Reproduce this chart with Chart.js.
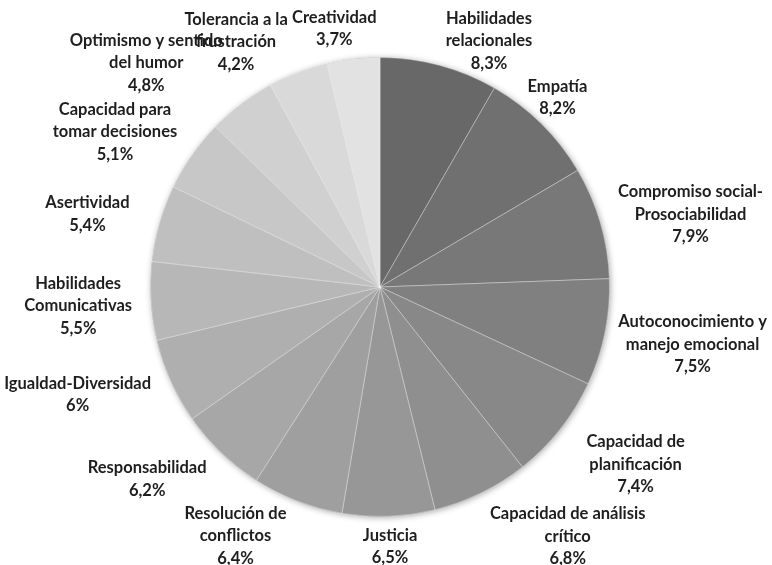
<!DOCTYPE html>
<html>
<head>
<meta charset="utf-8">
<script src="https://cdn.jsdelivr.net/npm/chart.js@4/dist/chart.umd.min.js"></script>
<style>
  html, body { margin: 0; padding: 0; background: #fff; }
  #wrap { width: 772px; height: 565px; }
</style>
</head>
<body>
<div id="wrap"><canvas id="pieChart" width="772" height="565"></canvas></div>
<script>
// Competencias (label lines split with \n) and their share in %
const categories = [
  'Habilidades\nrelacionales',
  'Empatía',
  'Compromiso social-\nProsociabilidad',
  'Autoconocimiento y\nmanejo emocional',
  'Capacidad de\nplanificación',
  'Capacidad de análisis\ncrítico',
  'Justicia',
  'Resolución de\nconflictos',
  'Responsabilidad',
  'Igualdad-Diversidad',
  'Habilidades\nComunicativas',
  'Asertividad',
  'Capacidad para\ntomar decisiones',
  'Optimismo y sentido\ndel humor',
  'Tolerancia a la\nfrustración',
  'Creatividad'
];
const values = [8.3, 8.2, 7.9, 7.5, 7.4, 6.8, 6.5, 6.4, 6.2, 6, 5.5, 5.4, 5.1, 4.8, 4.2, 3.7];

// grey shades, darkest first
const sliceColors = [
  '#686868', '#707070', '#787878', '#808080', '#888888', '#8f8f8f', '#979797', '#9f9f9f',
  '#a7a7a7', '#afafaf', '#b7b7b7', '#bfbfbf', '#c7c7c7', '#d0d0d0', '#d9d9d9', '#e2e2e2'
];

// small hand adjustments of each label (px), label order
const labelNudge = [
  [36, 18], [-12, -3], [11, 4], [5, 3], [29, 8], [48, 4], [0, -2], [-40, -6],
  [-26, 3], [-17, 0], [-9, 2], [-22, 0], [-18, 2], [-43, -6], [-40, 10], [-13, 2]
];

const FONT = 'bold 16.5px Lato, "Open Sans", sans-serif';
const LINE_H = 22.5;

function formatPct(v) {
  return String(v).replace('.', ',') + '%';
}

// soft shadow under the pie
const pieShadow = {
  id: 'pieShadow',
  beforeDatasetsDraw(chart) {
    const arc = chart.getDatasetMeta(0).data[0];
    if (!arc) return;
    const ctx = chart.ctx;
    ctx.save();
    ctx.shadowColor = 'rgba(0,0,0,0.35)';
    ctx.shadowBlur = 6;
    ctx.shadowOffsetX = 1;
    ctx.shadowOffsetY = 1;
    ctx.fillStyle = '#888';
    ctx.beginPath();
    ctx.arc(arc.x, arc.y, arc.outerRadius, 0, Math.PI * 2);
    ctx.fill();
    ctx.restore();
  }
};

// labels outside the slices
const outsideLabels = {
  id: 'outsideLabels',
  afterDatasetsDraw(chart) {
    const ctx = chart.ctx;
    const meta = chart.getDatasetMeta(0);
    ctx.save();
    ctx.font = FONT;
    ctx.fillStyle = '#1e1e1e';
    ctx.textAlign = 'center';
    ctx.textBaseline = 'middle';
    meta.data.forEach((arc, i) => {
      const lines = categories[i].split('\n').concat(formatPct(values[i]));
      const w = Math.max(...lines.map(l => ctx.measureText(l).width));
      const h = lines.length * LINE_H;
      const mid = (arc.startAngle + arc.endAngle) / 2;
      const dx = Math.cos(mid), dy = Math.sin(mid);
      const r = arc.outerRadius + 10;
      const cx = arc.x + dx * r + dx * w / 2 + labelNudge[i][0];
      const cy = arc.y + dy * r + dy * h / 2 + labelNudge[i][1];
      lines.forEach((l, k) => {
        ctx.fillText(l, cx, cy - h / 2 + LINE_H * (k + 0.5));
      });
    });
    ctx.restore();
  }
};

new Chart(document.getElementById('pieChart'), {
  type: 'pie',
  data: {
    labels: categories,
    datasets: [{
      data: values,
      backgroundColor: sliceColors,
      borderColor: 'rgba(255,255,255,0.35)',
      borderWidth: 1
    }]
  },
  options: {
    responsive: false,
    animation: false,
    layout: { padding: { top: 57, bottom: 48, left: 150, right: 162 } },
    plugins: {
      legend: { display: false },
      tooltip: { enabled: false }
    }
  },
  plugins: [pieShadow, outsideLabels]
});
</script>
</body>
</html>
